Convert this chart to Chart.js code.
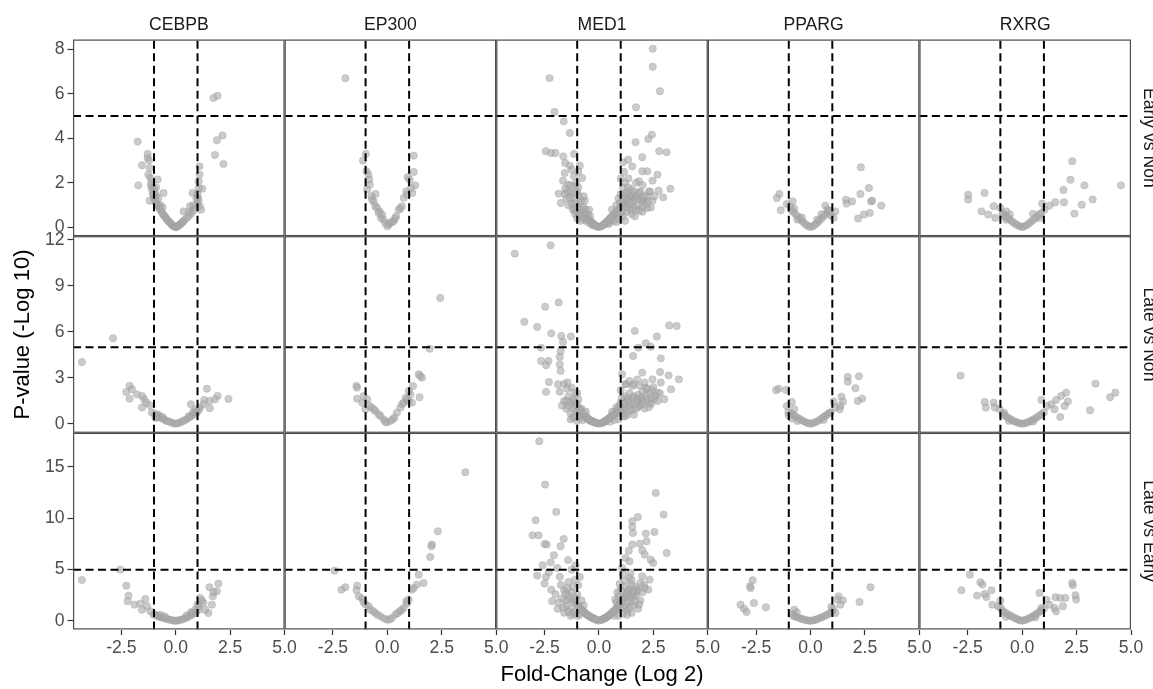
<!DOCTYPE html>
<html><head><meta charset="utf-8">
<script src="https://cdn.jsdelivr.net/npm/chart.js@4.4.1/dist/chart.umd.min.js"></script>
<style>html,body{margin:0;padding:0;background:#fff;overflow:hidden;width:1153px;height:689px}canvas{display:block}</style>
</head><body>
<canvas id="c" width="1166" height="689"></canvas>
<script>
// ---------- facets, ticks, thresholds ----------
const GENES = ['CEBPB', 'EP300', 'MED1', 'PPARG', 'RXRG'];
const CONTRASTS = ['Early vs Non', 'Late vs Non', 'Late vs Early'];
const X_TITLE = 'Fold-Change (Log 2)';
const Y_TITLE = 'P-value (-Log 10)';
const X_TICKS = [-2.5, 0, 2.5, 5];
const X_TICK_LABELS = ['-2.5', '0.0', '2.5', '5.0'];
const X_RANGE = [-4.72, 5.0];
const Y_TICKS_EARLY_NON = [0, 2, 4, 6, 8];
const Y_TICKS_LATE_NON = [0, 3, 6, 9, 12];
const Y_TICKS_LATE_EARLY = [0, 5, 10, 15];
const Y_RANGE_EARLY_NON = [-0.39, 8.43];
const Y_RANGE_LATE_NON = [-0.58, 12.25];
const Y_RANGE_LATE_EARLY = [-0.83, 18.32];
const FC_CUTS = [-1, 1];
const P_CUT = 5;

// ---------- data: [log2 fold-change, -log10 p] ----------
const cebpbEarlyNon = [[1.73,5.81],[1.92,5.91],[2.15,4.13],[1.89,3.91],[1.80,3.25],[2.19,2.85],[-1.75,3.85],[-1.72,1.89],[-1.29,3.30],[-1.55,2.79],[-1.23,3.01],[-1.29,3.12],[-1.20,2.67],[-1.26,2.37],[-1.17,2.22],[-1.08,1.85],[-0.83,2.15],[-1.02,1.47],[-0.56,1.55],[1.09,2.74],[1.09,2.37],[1.05,2.07],[1.22,1.74],[0.77,1.55],[1.02,1.32],[1.16,0.80],[0.66,0.95],[0.36,0.72],
[-1.10,1.70],[-1.05,1.50],[-1.00,1.30],[-0.95,1.20],[-0.90,1.10],[-0.85,1.00],[-0.80,0.95],[-0.75,0.85],[-0.70,0.80],[-0.65,0.70],[-0.60,0.60],[-0.55,0.55],[-0.50,0.50],[-0.45,0.42],[-0.40,0.35],[-0.35,0.30],[-0.30,0.25],[-0.25,0.20],[-0.20,0.14],[-0.15,0.10],[-0.10,0.06],[-0.05,0.03],[0.00,0.01],[0.05,0.03],[0.10,0.06],[0.15,0.10],[0.20,0.14],[0.25,0.18],[0.30,0.23],[0.35,0.28],[0.40,0.33],[0.50,0.42],[0.60,0.52],[0.70,0.62],[0.80,0.75],[0.90,0.90],[1.00,1.05],[1.05,1.20],[-0.90,1.40],[-0.70,1.00],[-0.60,0.90],[0.60,0.70],[0.80,1.00],[-1.20,1.20],[-0.80,1.30],
[-1.15,1.90],[-1.00,1.75],[-0.95,1.55],[-1.10,2.05],[-0.90,1.80],[1.00,1.50],[1.05,1.75],[0.95,1.30],[1.10,0.95]];
const ep300EarlyNon = [[-1.93,6.69],[-0.99,3.30],[-1.12,3.00],[-0.96,2.52],[-0.87,2.37],[-0.81,1.92],[-0.83,2.15],[-0.54,1.50],[-0.63,1.17],[-0.55,0.95],[-0.35,0.72],[-0.29,0.43],[-0.09,0.20],[0.06,0.13],[0.29,0.28],[0.41,0.50],[0.52,0.80],[0.67,0.95],[0.75,1.32],[0.87,1.62],[0.93,2.25],[1.21,3.22],[1.21,2.49],[1.28,1.89],[1.09,1.77],[1.15,1.55],[-0.93,1.70],[-0.73,1.40],[-0.47,0.87],[-0.24,0.57],[0.14,0.20],[0.90,1.47],[1.02,2.14],[-0.18,0.35],[0.00,0.05],[0.20,0.25],[-0.40,0.65],[0.60,0.85],[-0.70,1.25],[0.35,0.40]];
const med1EarlyNon = [[2.47,8.02],[2.47,7.21],[2.80,6.11],[-2.27,6.70],[1.70,5.39],[-2.04,5.18],[-1.62,4.76],[-1.34,4.24],[2.43,4.16],[2.27,3.97],[1.68,3.82],[2.77,3.42],[3.11,3.37],[-2.44,3.42],[-2.20,3.34],[-2.00,3.34],[-1.64,3.19],[-1.14,3.30],[1.34,3.04],[1.99,3.15],[1.11,2.92],[1.53,2.74],[-1.55,2.89],[-1.34,2.77],[-0.88,2.77],[-1.57,2.44],[1.99,2.52],[2.22,2.52],[2.69,2.37],[1.84,2.07],[2.46,2.10],[-0.77,2.22],[-1.42,1.92],[-1.11,1.85],[-1.85,1.52],[-1.57,1.50],[2.74,1.65],[3.28,1.74],[2.95,1.35],[2.30,1.62],[2.46,1.20],[1.99,1.17],[2.38,0.90],[2.22,0.87],
[-1.30,1.60],[-1.20,1.30],[-1.10,1.10],[-1.00,0.90],[-0.90,1.40],[-1.20,0.80],[-1.40,1.00],[-0.80,0.80],[-0.70,0.60],[-0.60,0.50],[-0.50,0.40],[-0.40,0.30],[-0.30,0.20],[-0.20,0.12],[-0.10,0.05],[-1.00,1.60],[-0.90,1.10],[-0.80,1.20],[-0.70,0.90],[-0.60,0.80],[-0.50,0.60],[-1.05,2.00],[-0.95,1.80],[-1.30,1.90],[-1.50,1.30],[-1.10,0.60],[-0.90,0.50],[-0.75,0.40],[-0.60,0.30],[-0.45,0.20],[-0.30,0.10],[-0.85,0.30],[-1.00,0.40],[-1.20,1.50],[-0.65,1.20],[-0.40,0.50],[0.00,0.02],
[-1.45,1.60],[-1.35,1.35],[-1.25,1.05],[-1.15,0.85],[-1.05,0.70],[-0.95,0.65],[-0.85,0.55],[-1.55,1.75],[-1.65,2.10],[-1.15,2.30],[-0.95,2.50],[-1.25,2.60],[-0.55,0.35],[-0.35,0.25],[-0.25,0.15],[-0.15,0.08],[-0.05,0.03],[-0.70,1.40],[-0.45,0.80],[-1.75,1.10],
[0.10,0.05],[0.20,0.12],[0.30,0.20],[0.40,0.30],[0.50,0.40],[0.60,0.50],[0.70,0.60],[0.80,0.70],[0.90,0.80],[1.00,0.90],[1.10,1.00],[1.20,1.10],[1.30,1.20],[1.50,1.30],[1.70,1.40],[1.90,1.30],[2.10,1.20],[0.60,0.80],[0.80,1.00],[0.90,1.30],[1.00,1.50],[1.10,1.80],[1.20,2.00],[1.30,1.60],[1.40,1.00],[1.60,0.90],[1.80,1.00],[2.00,0.90],[2.20,1.40],[1.50,1.70],[1.00,2.20],[0.70,0.30],[0.50,0.20],[0.90,0.40],[1.10,0.50],[1.30,0.70],[1.50,0.60],[1.20,0.30],[0.40,0.15],[0.80,0.25],[1.40,1.40],[1.60,1.20],[1.10,1.30],[0.95,1.10],[1.70,0.80],[2.00,0.70],[1.90,1.60],
[0.15,0.08],[0.25,0.15],[0.35,0.25],[0.45,0.35],[0.55,0.45],[0.65,0.55],[0.75,0.65],[0.85,0.75],[1.05,1.10],[1.15,1.40],[1.25,1.50],[1.35,1.80],[1.45,1.10],[1.55,1.45],[1.65,1.60],[1.75,1.25],[1.85,1.55],[2.05,1.40],[2.15,1.05],[2.25,1.20],[2.35,1.60],[2.55,1.40],[1.25,0.90],[1.45,0.80],[1.65,0.50],[1.85,0.75],[1.05,0.70],[0.95,0.60],[1.15,2.50],[1.35,2.20],[1.70,2.00],[2.00,1.90]];
const ppargEarlyNon = [[2.31,2.70],[2.68,1.77],[2.29,1.50],[2.78,1.17],[1.91,1.17],[1.63,1.25],[1.65,1.07],[3.25,0.98],[2.18,0.40],[2.45,0.58],[2.72,0.65],[2.83,1.20],[-1.43,1.50],[-1.55,1.32],[-1.37,0.77],[-1.09,1.05],[-0.82,1.17],[-0.75,0.84],[-0.94,0.95],[0.68,0.98],[0.78,0.80],[1.14,0.72],[1.06,0.43],[0.91,0.55],
[-0.80,0.70],[-0.70,0.60],[-0.60,0.50],[-0.50,0.40],[-0.40,0.30],[-0.30,0.20],[-0.20,0.12],[-0.10,0.06],[0.00,0.02],[0.10,0.06],[0.20,0.12],[0.30,0.20],[0.40,0.30],[0.50,0.40],[0.60,0.50],[0.70,0.60],[0.80,0.70],[0.90,0.75],[-0.90,0.80],[-0.60,0.35],[0.50,0.60],[-0.40,0.45],[0.30,0.35]];
const rxrgEarlyNon = [[2.30,2.97],[2.22,2.14],[2.86,1.89],[4.54,1.89],[1.90,1.68],[3.24,1.26],[2.74,1.02],[2.40,0.62],[1.92,1.13],[1.52,1.13],[1.26,0.98],[0.92,1.07],[-2.48,1.47],[-2.48,1.25],[-1.73,1.55],[-1.87,0.72],[-1.56,0.58],[-1.23,0.43],[-1.31,0.95],[-1.00,0.87],[-0.88,0.61],[-0.73,0.72],[-0.73,0.35],[-0.57,0.58],[0.88,0.65],[1.03,0.80],[0.80,0.43],[0.50,0.61],
[-0.60,0.40],[-0.50,0.30],[-0.40,0.22],[-0.30,0.15],[-0.20,0.10],[-0.10,0.05],[0.00,0.02],[0.10,0.05],[0.20,0.10],[0.30,0.17],[0.40,0.25],[0.50,0.33],[0.60,0.42],[0.70,0.50],[0.80,0.60],[-0.80,0.50],[-0.70,0.45],[-0.90,0.60]];

const cebpbLateNon = [[-2.88,5.59],[-4.31,4.04],[-2.12,2.48],[-2.27,2.09],[-2.01,2.26],[-2.12,1.65],[-1.78,1.93],[-1.55,1.83],[-1.45,1.61],[-1.35,1.39],[-1.55,1.07],[-1.20,1.22],[-0.93,0.41],[1.43,2.30],[1.92,1.83],[2.42,1.63],[1.81,1.61],[1.55,1.50],[1.31,1.57],[1.56,1.02],[0.69,1.28],[1.12,1.07],[0.97,0.78],[1.27,1.28],
[-1.10,0.75],[-0.95,0.65],[-0.85,0.55],[-0.75,0.45],[-0.65,0.38],[-0.55,0.30],[-0.45,0.22],[-0.35,0.17],[-0.25,0.12],[-0.15,0.07],[-0.05,0.02],[0.05,0.03],[0.15,0.08],[0.25,0.13],[0.35,0.20],[0.45,0.27],[0.55,0.35],[0.65,0.45],[0.75,0.55],[0.85,0.65],[0.95,0.75],[1.05,0.90],[-0.80,0.60],[-0.60,0.45],[0.60,0.50],[0.80,0.80],[0.90,0.95],[-0.90,0.40]];
const ep300LateNon = [[2.43,8.22],[1.94,4.91],[1.44,3.24],[1.59,3.02],[1.51,3.13],[-1.42,2.48],[-1.39,2.37],[-1.09,1.83],[-1.39,1.65],[-0.93,1.61],[-1.15,1.39],[-1.01,0.96],[-0.73,1.07],[-0.55,0.85],[-0.40,0.63],[-0.17,0.30],[-0.02,0.09],[0.14,0.20],[0.32,0.41],[0.44,0.74],[0.60,1.07],[0.75,1.39],[0.84,1.72],[0.98,2.15],[1.18,2.48],[1.06,1.93],[1.48,1.74],[0.98,1.50],[1.13,1.39],[-0.63,0.96],[-0.32,0.52],[0.67,1.28],[-0.85,1.20],[0.25,0.30],[-0.10,0.15],[0.90,1.60]];
const med1LateNon = [[-3.87,11.11],[-2.22,11.65],[-2.47,7.65],[-1.85,7.93],[-3.43,6.67],[-2.84,6.33],[-2.19,5.91],[-1.73,5.74],[-1.29,5.70],[-1.65,5.35],[-2.66,4.98],[-1.76,4.76],[-1.80,4.39],[-2.66,4.11],[-2.32,4.11],[-2.43,3.83],[-1.80,3.89],[-1.76,3.46],[-2.30,2.74],[-1.88,2.59],[-2.43,2.09],[-1.45,2.70],[-1.26,2.37],[-1.11,2.04],
[3.23,6.43],[3.57,6.39],[1.65,6.07],[2.66,5.70],[2.15,5.26],[2.38,5.04],[1.81,4.98],[1.57,4.43],[2.84,4.28],[1.06,3.24],[1.99,3.35],[2.81,3.39],[3.20,3.17],[3.67,2.91],[1.76,2.91],[2.46,2.91],[2.84,2.70],[3.31,2.26],[1.22,2.59],[1.53,2.48],[2.15,2.37],[2.69,2.04],[3.00,1.61],[2.30,1.39],[1.84,1.61],
[-1.60,1.50],[-1.40,1.20],[-1.20,1.00],[-1.00,0.80],[-0.90,0.70],[-0.80,0.60],[-0.70,0.50],[-0.60,0.40],[-0.50,0.30],[-0.40,0.20],[-0.30,0.15],[-0.20,0.10],[-0.10,0.05],[0.00,0.02],[-1.50,1.00],[-1.30,0.70],[-1.10,0.50],[-0.90,0.40],[-1.20,1.60],[-1.00,1.30],[-1.40,1.80],[-1.00,2.00],[-0.80,1.00],[-0.60,0.80],[-0.95,1.60],[-1.30,0.30],[-1.00,0.20],[-0.75,0.25],
[-1.70,1.20],[-1.50,1.50],[-1.30,1.40],[-1.10,1.20],[-0.90,1.00],[-1.60,2.60],[-1.45,2.30],[-1.15,1.50],[-0.85,0.90],[-0.70,0.70],[-0.55,0.45],[-0.45,0.30],[-0.35,0.22],[-0.25,0.15],[-0.15,0.08],[-1.80,2.10],[-1.20,0.40],
[0.10,0.05],[0.20,0.10],[0.30,0.20],[0.40,0.30],[0.50,0.40],[0.60,0.50],[0.70,0.60],[0.80,0.70],[0.90,0.80],[1.00,0.90],[1.10,1.00],[1.20,1.10],[1.40,1.20],[1.60,1.30],[1.80,1.40],[2.00,1.50],[2.20,1.60],[2.40,1.70],[0.60,0.80],[0.80,1.10],[1.00,1.40],[1.20,1.80],[1.40,2.00],[1.60,1.80],[1.80,1.90],[2.00,2.10],[2.20,2.30],[1.00,2.20],[1.30,1.50],[1.50,0.90],[1.70,1.00],[1.90,1.20],[2.10,1.00],[2.60,1.80],[2.80,2.00],[1.10,0.50],[1.30,0.60],[0.90,0.30],[0.70,0.25],[0.50,0.15],[1.60,0.60],[2.40,1.30],[2.50,2.40],[1.25,2.60],[1.05,1.70],
[0.15,0.08],[0.25,0.15],[0.35,0.25],[0.45,0.35],[0.55,0.50],[0.65,0.60],[0.75,0.80],[0.85,0.95],[0.95,1.20],[1.15,1.30],[1.35,1.60],[1.45,1.40],[1.55,1.70],[1.75,1.60],[1.95,1.75],[2.15,1.85],[2.35,2.00],[2.55,1.60],[2.70,1.50],[1.85,2.50],[1.60,2.60],[1.40,2.80],[2.10,2.70],[2.45,2.20],[1.10,0.70],[1.40,0.90],[1.80,1.10],[2.00,1.30],[2.30,1.10],[1.20,0.50]];
const ppargLateNon = [[1.71,3.07],[2.22,3.11],[1.71,2.76],[2.06,2.33],[2.37,1.65],[2.17,1.50],[1.42,1.78],[1.49,1.46],[1.37,1.17],[-1.58,2.20],[-1.46,2.30],[-1.12,2.22],[-0.86,1.43],[-1.09,1.17],[-1.02,0.74],[-0.75,0.96],[1.06,1.46],[1.14,1.07],[1.34,0.96],[0.91,0.74],
[-0.90,0.70],[-0.80,0.60],[-0.70,0.50],[-0.60,0.40],[-0.50,0.32],[-0.40,0.24],[-0.30,0.17],[-0.20,0.10],[-0.10,0.05],[0.00,0.02],[0.10,0.05],[0.20,0.10],[0.30,0.17],[0.40,0.25],[0.50,0.35],[0.60,0.45],[0.70,0.55],[0.80,0.65],[0.90,0.75],[-0.85,0.35],[-0.60,0.20],[0.60,0.25],[-1.00,0.55]];
const rxrgLateNon = [[-2.83,3.15],[3.37,2.63],[4.28,2.04],[4.04,1.74],[3.12,0.89],[2.02,2.04],[1.79,1.83],[1.56,1.57],[2.10,1.46],[1.95,1.17],[1.49,0.96],[1.75,0.46],[0.88,1.57],[1.14,1.17],[1.34,1.28],[-1.72,1.43],[-1.67,1.07],[-1.31,1.39],[-1.26,1.07],[-1.03,0.96],[-0.83,0.74],
[-0.90,0.65],[-0.80,0.55],[-0.70,0.45],[-0.60,0.36],[-0.50,0.28],[-0.40,0.20],[-0.30,0.14],[-0.20,0.08],[-0.10,0.04],[0.00,0.02],[0.10,0.04],[0.20,0.08],[0.30,0.14],[0.40,0.20],[0.50,0.28],[0.60,0.36],[0.70,0.45],[0.80,0.55],[0.90,0.65],[1.00,0.75],[-0.60,0.20],[0.50,0.15]];

const cebpbLateEarly = [[-2.55,5.00],[-4.31,3.99],[-2.27,3.44],[-2.17,2.47],[-2.21,1.92],[-1.89,1.59],[-1.63,1.69],[-1.40,2.14],[-1.55,1.10],[-1.32,1.43],[-1.17,0.94],[-1.02,0.62],[-0.79,0.45],[1.96,3.64],[1.55,3.28],[1.89,2.89],[1.73,2.79],[1.70,2.40],[1.12,2.24],[1.27,1.75],[1.66,1.59],[1.50,0.78],[1.35,1.10],[1.05,1.43],[0.89,1.10],[0.74,0.78],
[-0.95,0.60],[-0.85,0.50],[-0.75,0.42],[-0.65,0.35],[-0.55,0.28],[-0.45,0.22],[-0.35,0.16],[-0.25,0.11],[-0.15,0.07],[-0.05,0.02],[0.05,0.03],[0.15,0.08],[0.25,0.13],[0.35,0.20],[0.45,0.28],[0.55,0.38],[0.65,0.50],[0.75,0.62],[0.85,0.75],[0.95,0.90],[1.05,1.10],[-0.70,0.60],[-0.50,0.45],[0.50,0.55],[0.70,0.85],[1.00,1.60],[1.20,2.00]];
const ep300LateEarly = [[3.58,14.48],[2.32,8.73],[2.05,7.44],[2.02,7.27],[1.97,6.23],[-2.43,4.90],[-2.11,3.05],[-1.93,3.28],[-1.39,3.44],[-1.42,2.99],[-1.31,2.40],[-1.16,2.18],[-1.09,1.82],[-0.86,1.43],[-0.78,1.10],[-0.55,0.78],[-0.32,0.45],[-0.02,0.13],[0.21,0.29],[0.37,0.62],[0.57,0.94],[0.75,1.27],[0.87,1.92],[0.98,2.08],[1.44,4.51],[1.67,3.70],[1.36,3.54],[1.21,3.21],[1.13,3.05],[-0.65,0.95],[-0.45,0.60],[-0.15,0.25],[0.10,0.15],[0.47,0.75],[0.65,1.05],[-1.00,1.60],[0.90,1.70]];
const med1LateEarly = [[-2.74,17.50],[-2.47,13.28],[-1.96,10.62],[-2.91,9.81],[-3.05,8.34],[-2.77,8.34],[-2.50,7.50],[-2.40,7.44],[-1.62,7.99],[-1.76,7.27],[-2.07,6.40],[-1.42,5.94],[-2.22,5.71],[-2.58,5.42],[-1.08,5.42],[-2.30,4.74],[-1.91,5.16],[-2.84,4.42],[-2.43,4.29],[-2.50,3.64],[-2.19,3.05],[-2.15,1.92],[-1.26,5.00],[-0.88,4.29],
[2.61,12.47],[2.97,10.36],[1.79,10.13],[1.53,9.71],[1.53,9.16],[1.56,8.57],[2.55,8.67],[2.15,8.51],[2.19,7.76],[1.88,7.53],[1.53,7.44],[1.37,6.85],[3.11,6.62],[1.99,6.88],[2.10,6.46],[1.22,6.14],[1.40,5.81],[2.38,5.97],[2.49,5.65],[1.06,5.16],[1.45,4.68],[1.99,4.35],[2.33,4.03],[2.07,3.54],[2.27,3.05],[1.76,3.05],[1.60,2.56],[1.37,2.40],
[-1.60,3.00],[-1.40,2.50],[-1.20,2.00],[-1.00,1.60],[-0.90,1.30],[-0.80,1.10],[-0.70,0.90],[-0.60,0.70],[-0.50,0.55],[-0.40,0.40],[-0.30,0.30],[-0.20,0.20],[-0.10,0.10],[0.00,0.03],[-1.50,1.50],[-1.30,1.20],[-1.10,0.90],[-0.90,0.60],[-1.70,2.20],[-1.20,3.30],[-1.00,2.60],[-0.80,2.00],[-1.40,3.80],[-1.90,1.20],[-1.60,0.80],[-1.30,0.50],[-0.95,3.50],[-1.10,4.00],[-0.70,1.50],[-1.80,4.30],[-1.50,2.00],
[-1.75,3.50],[-1.55,2.70],[-1.35,2.20],[-1.15,1.80],[-0.95,1.50],[-0.85,1.20],[-0.75,1.00],[-0.65,0.80],[-0.55,0.60],[-0.45,0.48],[-0.35,0.35],[-0.25,0.25],[-0.15,0.15],[-1.45,3.20],[-1.25,2.80],[-1.05,2.20],[-2.00,2.60],[-1.85,1.80],[-1.65,1.30],[-1.40,0.90],[-1.20,0.70],[-1.00,0.50],
[0.10,0.10],[0.20,0.20],[0.30,0.30],[0.40,0.45],[0.50,0.60],[0.60,0.80],[0.70,1.00],[0.80,1.20],[0.90,1.50],[1.00,1.80],[1.10,2.10],[1.20,2.40],[1.30,2.80],[1.40,3.20],[1.50,3.50],[1.70,2.50],[1.90,2.00],[1.60,1.50],[1.30,1.00],[1.10,0.70],[0.90,0.50],[1.50,0.80],[1.80,1.20],[1.00,3.00],[0.90,2.40],[1.20,3.90],[1.40,4.20],[1.70,3.30],[2.00,2.80],[0.80,1.80],[0.70,0.50],[1.30,1.70],[1.10,4.60],[0.95,3.60],
[0.15,0.15],[0.25,0.25],[0.35,0.38],[0.45,0.50],[0.55,0.70],[0.65,0.90],[0.75,1.10],[0.85,1.35],[0.95,1.65],[1.05,1.95],[1.15,2.30],[1.25,2.60],[1.35,3.00],[1.45,2.00],[1.55,2.30],[1.65,1.90],[1.75,2.90],[1.85,1.60],[1.60,2.90],[1.00,1.20],[1.20,1.40],[1.40,1.30],[1.10,3.40],[0.85,2.80],[0.75,2.10],[1.50,4.00],[1.90,3.70],[2.10,3.20],[1.30,0.60]];
const ppargLateEarly = [[-2.66,3.96],[-2.78,3.38],[-2.75,3.21],[-3.22,1.59],[-3.06,1.20],[-2.94,0.88],[-2.60,1.75],[-2.05,1.33],[2.75,3.28],[2.25,1.85],[1.29,2.40],[1.22,2.08],[1.49,2.01],[1.37,1.59],[1.14,0.78],[-0.86,0.68],[-0.75,1.10],[-0.63,0.84],
[-0.80,0.50],[-0.70,0.42],[-0.60,0.35],[-0.50,0.28],[-0.40,0.20],[-0.30,0.14],[-0.20,0.08],[-0.10,0.04],[0.00,0.02],[0.10,0.05],[0.20,0.10],[0.30,0.18],[0.40,0.26],[0.50,0.35],[0.60,0.45],[0.70,0.55],[0.80,0.65],[0.90,0.80],[1.00,0.95],[1.05,1.20],[0.95,1.40]];
const rxrgLateEarly = [[-2.40,4.51],[-1.92,3.77],[-1.82,3.54],[-2.79,2.99],[-1.41,2.99],[-1.72,2.63],[-2.07,2.47],[-1.64,2.34],[-1.37,1.59],[-1.00,1.98],[-1.11,1.43],[2.30,3.70],[2.33,3.47],[0.80,2.73],[2.45,2.50],[2.48,2.08],[1.99,2.24],[1.75,2.24],[1.53,2.31],[1.11,2.08],[1.87,1.43],[1.49,1.27],[1.56,0.94],[1.26,1.59],[0.88,1.27],
[-0.90,1.00],[-0.80,0.85],[-0.70,0.70],[-0.60,0.58],[-0.50,0.46],[-0.40,0.35],[-0.30,0.25],[-0.20,0.15],[-0.10,0.07],[0.00,0.03],[0.10,0.07],[0.20,0.15],[0.30,0.25],[0.40,0.35],[0.50,0.47],[0.60,0.60],[0.70,0.75],[0.80,0.90],[0.90,1.05],[1.00,1.20],[-0.75,0.40],[0.60,0.35],[-1.00,1.30]];

// ---------- assemble ----------
const PANELS = [
  [cebpbEarlyNon, ep300EarlyNon, med1EarlyNon, ppargEarlyNon, rxrgEarlyNon],
  [cebpbLateNon, ep300LateNon, med1LateNon, ppargLateNon, rxrgLateNon],
  [cebpbLateEarly, ep300LateEarly, med1LateEarly, ppargLateEarly, rxrgLateEarly]
];
const Y_TICKS = [Y_TICKS_EARLY_NON, Y_TICKS_LATE_NON, Y_TICKS_LATE_EARLY];
const Y_RANGES = [Y_RANGE_EARLY_NON, Y_RANGE_LATE_NON, Y_RANGE_LATE_EARLY];

const CANVAS_W = 1166, CANVAS_H = 689;
const AREA = {left: 73, right: 1131, top: 39.5, bottom: 629.5};
const FONT = "'Liberation Sans', Arial, Helvetica, sans-serif";
const ROWS = CONTRASTS.length, COLS = GENES.length;

const scales = {};
// left boxes are stacked in reverse definition order by Chart.js
for (let r = ROWS - 1; r >= 0; r--) {
  scales['ly' + r] = {
    type: 'linear', axis: 'y', position: 'left', stack: 'yl', bounds: 'data',
    min: Y_RANGES[r][0], max: Y_RANGES[r][1],
    afterBuildTicks: s => { s.ticks = Y_TICKS[r].map(v => ({value: v})); },
    afterFit: s => { s.width = AREA.left; },
    ticks: {autoSkip: false, color: '#4d4d4d', font: {family: FONT, size: 17.6}, padding: 3, callback: v => String(v)},
    grid: {display: true, drawOnChartArea: false, drawTicks: true, tickLength: 5.5, tickColor: '#333333', tickWidth: 1.2},
    border: {display: false},
    title: r === 1 ? {display: true, text: Y_TITLE, color: '#000', font: {family: FONT, size: 22}, padding: {top: 9.5, bottom: 0}} : {display: false}
  };
}
for (let c = 0; c < COLS; c++) {
  scales['bx' + c] = {
    type: 'linear', axis: 'x', position: 'bottom', stack: 'xb', bounds: 'data',
    min: X_RANGE[0], max: X_RANGE[1],
    afterBuildTicks: s => { s.ticks = X_TICKS.map(v => ({value: v})); },
    afterFit: s => { s.height = CANVAS_H - AREA.bottom; },
    ticks: {autoSkip: false, maxRotation: 0, minRotation: 0, color: '#4d4d4d', font: {family: FONT, size: 17.6}, padding: 3, callback: (v, i) => X_TICK_LABELS[i]},
    grid: {display: true, drawOnChartArea: false, drawTicks: true, tickLength: 5.5, tickColor: '#333333', tickWidth: 1.2},
    border: {display: false},
    title: c === 2 ? {display: true, text: X_TITLE, color: '#000', font: {family: FONT, size: 22}, padding: {top: 0, bottom: 0.8}} : {display: false}
  };
}
for (let c = COLS - 1; c >= 0; c--) {
  scales['tx' + c] = {
    type: 'linear', axis: 'x', position: 'top', stack: 'xt', min: 0, max: 1,
    ticks: {display: false}, grid: {display: false}, border: {display: false},
    afterFit: s => { s.height = AREA.top; },
    title: {display: true, text: GENES[c], color: '#1a1a1a', font: {family: FONT, size: 17.6}, padding: {top: 14.5, bottom: 0}}
  };
}
for (let r = 0; r < ROWS; r++) {
  scales['ry' + r] = {
    type: 'linear', axis: 'y', position: 'right', stack: 'yr', min: 0, max: 1,
    ticks: {display: false}, grid: {display: false}, border: {display: false},
    afterFit: s => { s.width = CANVAS_W - AREA.right; },
    title: {display: true, text: CONTRASTS[r], color: '#1a1a1a', font: {family: FONT, size: 17.6}, padding: {top: 7, bottom: 0}}
  };
}

const datasets = [];
for (let r = 0; r < ROWS; r++) {
  for (let c = 0; c < COLS; c++) {
    datasets.push({
      label: GENES[c] + ' ' + CONTRASTS[r],
      data: PANELS[r][c],
      xAxisID: 'bx' + c, yAxisID: 'ly' + r,
      pointRadius: 3.7, pointHoverRadius: 3.7,
      pointBackgroundColor: 'rgba(169,169,169,0.6)',
      pointBorderColor: 'rgba(150,150,150,0.5)',
      pointBorderWidth: 0.6
    });
  }
}

const facetPlugin = {
  id: 'facetDecor',
  afterDatasetsDraw(chart) {
    const ctx = chart.ctx;
    for (let r = 0; r < ROWS; r++) {
      for (let c = 0; c < COLS; c++) {
        const xs = chart.scales['bx' + c], ys = chart.scales['ly' + r];
        const L = xs.left, R = xs.right, T = ys.top, B = ys.bottom;
        ctx.save();
        ctx.beginPath(); ctx.rect(L, T, R - L, B - T); ctx.clip();
        ctx.strokeStyle = '#000'; ctx.lineWidth = 2; ctx.setLineDash([8, 4.5]);
        ctx.beginPath();
        FC_CUTS.forEach(v => { const px = xs.getPixelForValue(v); ctx.moveTo(px, B); ctx.lineTo(px, T); });
        const py = ys.getPixelForValue(P_CUT);
        ctx.moveTo(L, py); ctx.lineTo(R, py);
        ctx.stroke();
        ctx.restore();
      }
    }
  },
  afterDraw(chart) {
    const ctx = chart.ctx;
    ctx.save();
    ctx.strokeStyle = '#4d4d4d'; ctx.lineWidth = 1.2; ctx.setLineDash([]);
    for (let r = 0; r < ROWS; r++) {
      for (let c = 0; c < COLS; c++) {
        const xs = chart.scales['bx' + c], ys = chart.scales['ly' + r];
        ctx.strokeRect(xs.left + 0.6, ys.top + 0.6, xs.right - xs.left - 1.2, ys.bottom - ys.top - 1.2);
      }
    }
    ctx.restore();
  }
};

new Chart(document.getElementById('c'), {
  type: 'scatter',
  data: {datasets},
  options: {
    responsive: false, animation: false, devicePixelRatio: 1, events: [],
    layout: {padding: 0},
    plugins: {legend: {display: false}, tooltip: {enabled: false}},
    scales
  },
  plugins: [facetPlugin]
});
</script>
</body></html>
